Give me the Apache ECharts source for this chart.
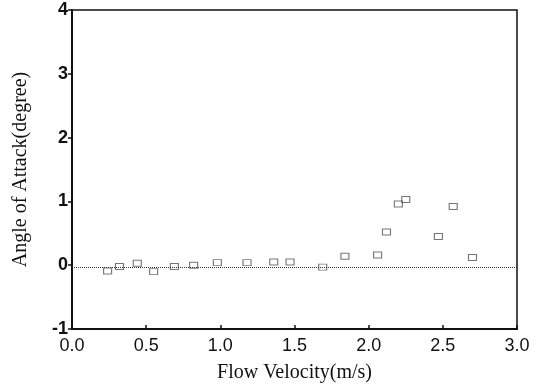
<!DOCTYPE html>
<html>
<head>
<meta charset="utf-8">
<script src="https://cdn.jsdelivr.net/npm/echarts@6/dist/echarts.min.js"></script>
<style>
  html, body { margin: 0; padding: 0; background: #fff; }
  #main { width: 546px; height: 388px; }
</style>
</head>
<body>
<div id="main"></div>
<script>
// flow velocity (m/s) and measured angle of attack (degree)
var velocity = [0.24, 0.32, 0.44, 0.55, 0.69, 0.82, 0.98, 1.18, 1.36, 1.47, 1.69,
                1.84, 2.06, 2.12, 2.20, 2.25, 2.47, 2.57, 2.70];
var angle = [-0.09, -0.02, 0.03, -0.10, -0.02, 0.00, 0.04, 0.04, 0.05, 0.05, -0.03,
             0.14, 0.16, 0.52, 0.96, 1.03, 0.45, 0.92, 0.12];
var zeroLine = -0.03;

var points = velocity.map(function (v, i) { return [v, angle[i]]; });

var chart = echarts.init(document.getElementById('main'));

var option = {
    backgroundColor: '#fff',
    animation: false,
    grid: {
        left: 72,
        right: 29,
        top: 10,
        bottom: 59,
        show: true,
        borderColor: '#111',
        borderWidth: 1.5
    },
    xAxis: {
        type: 'value',
        min: 0,
        max: 3,
        interval: 0.5,
        name: 'Flow Velocity(m/s)',
        nameLocation: 'middle',
        nameGap: 34,
        nameTextStyle: { fontFamily: 'Liberation Serif', fontSize: 20, color: '#111' },
        splitLine: { show: false },
        axisLine: { onZero: false, lineStyle: { color: '#111', width: 2 } },
        axisTick: { inside: true, length: 4, lineStyle: { color: '#111', width: 1.5 } },
        axisLabel: {
            fontFamily: 'Liberation Sans', fontSize: 18, color: '#111', margin: 8,
            formatter: function (v) { return v.toFixed(1); }
        }
    },
    yAxis: {
        type: 'value',
        min: -1,
        max: 4,
        interval: 1,
        name: 'Angle of Attack(degree)',
        nameLocation: 'middle',
        nameGap: 41,
        nameTextStyle: { fontFamily: 'Liberation Serif', fontSize: 20, color: '#111' },
        splitLine: { show: false },
        axisLine: { onZero: false, lineStyle: { color: '#111', width: 2 } },
        axisTick: { length: 4, lineStyle: { color: '#111', width: 1.5 } },
        axisLabel: {
            fontFamily: 'Liberation Sans', fontSize: 18, fontWeight: 'bold', color: '#111', margin: 4
        }
    },
    series: [{
        type: 'scatter',
        data: points,
        symbol: 'rect',
        symbolSize: [8, 6],
        itemStyle: { color: 'rgba(255,255,255,0)', borderColor: '#555', borderWidth: 1 },
        markLine: {
            silent: true,
            symbol: 'none',
            label: { show: false },
            lineStyle: { type: 'dotted', color: '#333', width: 1 },
            data: [{ yAxis: zeroLine }]
        }
    }]
};

chart.setOption(option);
</script>
</body>
</html>
